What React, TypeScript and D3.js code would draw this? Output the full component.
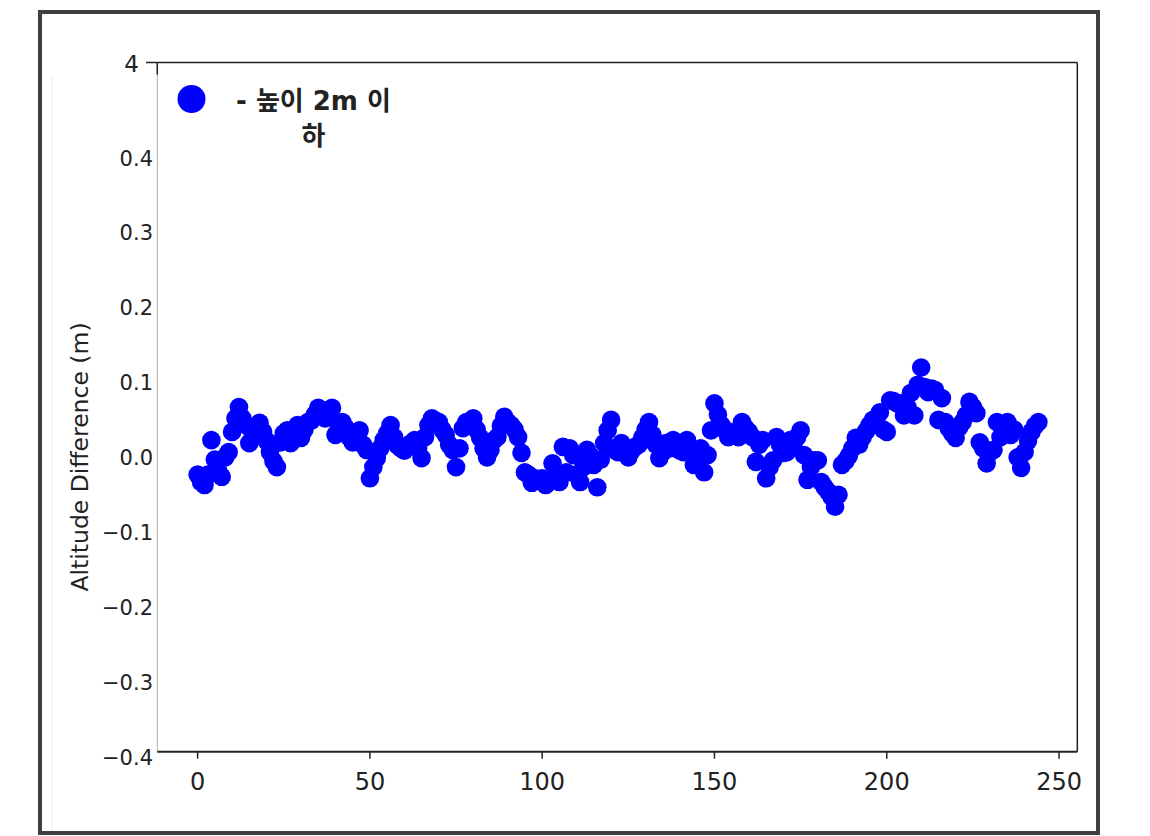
import React from "react";
import * as d3 from "d3";

// altitude difference per sample index (m)
const altitudeDiff = [
  -0.03, -0.04, -0.044, -0.03, 0.016, -0.01, -0.025, -0.033, -0.007, 0.0,
  0.027, 0.045, 0.06, 0.045, 0.036, 0.012, 0.02, 0.032, 0.039, 0.027,
  0.015, 0.0, -0.012, -0.02, 0.013, 0.025, 0.029, 0.012, 0.02, 0.036,
  0.019, 0.03, 0.04, 0.042, 0.05, 0.059, 0.05, 0.045, 0.052, 0.059,
  0.023, 0.035, 0.04, 0.032, 0.02, 0.013, 0.022, 0.029, 0.01, 0.003,
  -0.035, -0.02, -0.008, 0.005, 0.016, 0.025, 0.036, 0.02, 0.009, 0.005,
  0.002, 0.009, 0.012, 0.016, 0.005, -0.008, 0.02, 0.036, 0.045, 0.042,
  0.04, 0.03, 0.023, 0.01, 0.003, -0.02, 0.005, 0.032, 0.04, 0.038,
  0.045, 0.03, 0.019, 0.005, -0.007, 0.003, 0.016, 0.02, 0.035, 0.047,
  0.04, 0.036, 0.03, 0.02, -0.001, -0.027, -0.03, -0.041, -0.035, -0.038,
  -0.035, -0.044, -0.04, -0.015, -0.03, -0.04, 0.007, -0.027, 0.005, -0.004,
  -0.03, -0.04, -0.02, 0.003, -0.005, -0.017, -0.047, -0.01, 0.012, 0.029,
  0.043, 0.003, 0.0, 0.012, 0.005, -0.007, 0.002, 0.007, 0.01, 0.019,
  0.03, 0.04, 0.023, 0.01, -0.008, 0.0, 0.012, 0.005, 0.016, 0.01,
  0.002, 0.0, 0.016, 0.005, -0.017, -0.01, 0.005, -0.027, -0.004, 0.029,
  0.065, 0.05, 0.036, 0.03, 0.02, 0.025, 0.027, 0.02, 0.04, 0.032,
  0.027, 0.02, -0.013, 0.01, 0.016, -0.035, -0.02, -0.011, 0.02, 0.01,
  -0.001, 0.0, 0.016, 0.012, 0.02, 0.029, -0.004, -0.037, -0.02, -0.011,
  -0.011, -0.04, -0.047, -0.053, -0.06, -0.073, -0.057, -0.017, -0.012, -0.005,
  0.005, 0.019, 0.01, 0.02, 0.028, 0.036, 0.043, 0.04, 0.053, 0.03,
  0.027, 0.069, 0.068, 0.065, 0.065, 0.049, 0.06, 0.079, 0.049, 0.09,
  0.113, 0.087, 0.08, 0.085, 0.083, 0.043, 0.072, 0.04, 0.032, 0.025,
  0.019, 0.033, 0.04, 0.049, 0.067, 0.06, 0.052, 0.013, 0.005, -0.015,
  0.0, 0.003, 0.04, 0.02, 0.03, 0.04, 0.023, 0.03, -0.007, -0.021,
  0.0, 0.015, 0.027, 0.035, 0.04,
];

const xTicks = [0, 50, 100, 150, 200, 250];
const yTicks = [0.4, 0.3, 0.2, 0.1, 0.0, -0.1, -0.2, -0.3, -0.4];
const yTickLabels = ["0.4", "0.3", "0.2", "0.1", "0.0", "\u22120.1", "\u22120.2", "\u22120.3", "\u22120.4"];
const topTickLabel = "4";
const legendLines = ["- 높이 2m 이", "하"];
const yAxisTitle = "Altitude Difference (m)";

const W = 1150;
const H = 836;
const plot = { left: 157.3, right: 1077.3, top: 62.5, bottom: 751.7 };
const font = "'DejaVu Sans', sans-serif";

export default function App() {
  const x = d3.scaleLinear().domain([-11.7, 255.3]).range([plot.left, plot.right]);
  const y = d3.scaleLinear().domain([-0.4, 0.4]).range([plot.bottom, plot.bottom - 599.2]);

  return (
    <svg
      width={W}
      height={H}
      style={{ position: "absolute", left: 0, top: 0, background: "#fff" }}
    >
      {/* outer frame */}
      <rect x={40} y={12} width={1058} height={821} fill="#fff" stroke="#404040" strokeWidth={4} />
      <line x1={52} y1={75} x2={52} y2={831} stroke="#ededed" strokeWidth={1} />

      {/* points */}
      <g>
        {altitudeDiff.map((v, i) => (
          <circle key={i} cx={x(i)} cy={y(v)} r={9.3} fill="#0000ff" />
        ))}
      </g>

      {/* spines */}
      <line x1={plot.left} y1={plot.top} x2={plot.left} y2={plot.bottom} stroke="#aaa" strokeWidth={1} />
      <line x1={plot.left} y1={plot.top} x2={plot.left} y2={plot.top + 12} stroke="#222" strokeWidth={1.5} />
      <line x1={plot.left} y1={plot.top} x2={plot.right} y2={plot.top} stroke="#222" strokeWidth={1.5} />
      <line x1={plot.right} y1={plot.top} x2={plot.right} y2={plot.bottom} stroke="#222" strokeWidth={1.5} />
      <line x1={plot.left} y1={plot.bottom} x2={plot.right} y2={plot.bottom} stroke="#222" strokeWidth={2} />

      {/* x ticks */}
      {xTicks.map((t) => (
        <g key={t} transform={`translate(${x(t)},${plot.bottom})`}>
          <line y1={0} y2={7} stroke="#222" strokeWidth={1.5} />
          <text y={38} textAnchor="middle" fontFamily={font} fontSize={24} fill="#222">
            {t}
          </text>
        </g>
      ))}

      {/* y tick labels */}
      {yTicks.map((t, i) => (
        <text
          key={t}
          x={153}
          y={y(t) + 13}
          textAnchor="end"
          fontFamily={font}
          fontSize={21}
          fill="#222"
        >
          {yTickLabels[i]}
        </text>
      ))}
      <line x1={146} y1={plot.top} x2={plot.left} y2={plot.top} stroke="#222" strokeWidth={1.5} />
      <text x={139} y={72} textAnchor="end" fontFamily={font} fontSize={23} fill="#222">
        {topTickLabel}
      </text>

      {/* y axis title */}
      <text
        transform={`translate(88,457) rotate(-90)`}
        textAnchor="middle"
        fontFamily={font}
        fontSize={23.5}
        fill="#222"
      >
        {yAxisTitle}
      </text>

      {/* legend */}
      <circle cx={191.5} cy={99} r={14} fill="#0000ff" />
      <text
        x={313.5}
        textAnchor="middle"
        fontFamily="'DejaVu Sans', 'Noto Sans CJK KR', sans-serif"
        fontWeight="bold"
        fontSize={26}
        fill="#222"
      >
        {legendLines.map((l, i) => (
          <tspan key={i} x={313.5} y={110 + i * 35}>
            {l}
          </tspan>
        ))}
      </text>
    </svg>
  );
}
